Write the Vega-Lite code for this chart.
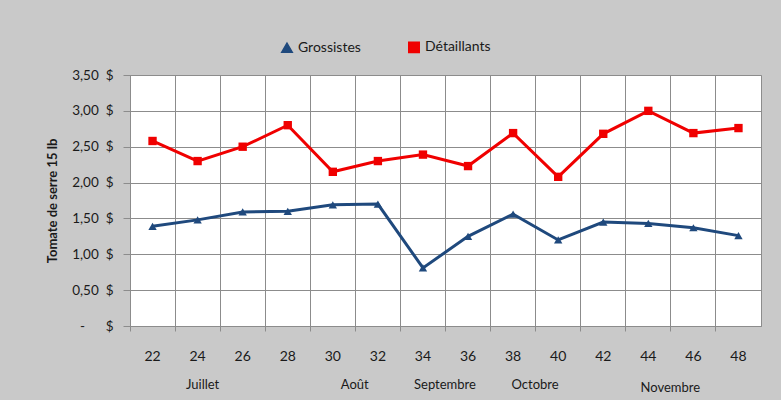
{
  "$schema": "https://vega.github.io/schema/vega-lite/v6.json",
  "autosize": {"type": "none"},
  "width": 631,
  "height": 251,
  "padding": {"left": 130, "top": 75, "right": 20, "bottom": 74},
  "background": "#c9c9c9",
  "config": {
    "font": "Lato",
    "view": {"fill": "white", "stroke": "#8c8c8c", "strokeWidth": 1},
    "axis": {"labelFont": "Lato", "titleFont": "Lato", "labelColor": "#1a1a1a", "titleColor": "#1a1a1a"}
  },
  "data": {
    "values": [
      {"week": "22", "series": "Grossistes", "price": 1.39},
      {"week": "24", "series": "Grossistes", "price": 1.48},
      {"week": "26", "series": "Grossistes", "price": 1.59},
      {"week": "28", "series": "Grossistes", "price": 1.60},
      {"week": "30", "series": "Grossistes", "price": 1.69},
      {"week": "32", "series": "Grossistes", "price": 1.70},
      {"week": "34", "series": "Grossistes", "price": 0.81},
      {"week": "36", "series": "Grossistes", "price": 1.25},
      {"week": "38", "series": "Grossistes", "price": 1.56},
      {"week": "40", "series": "Grossistes", "price": 1.20},
      {"week": "42", "series": "Grossistes", "price": 1.45},
      {"week": "44", "series": "Grossistes", "price": 1.43},
      {"week": "46", "series": "Grossistes", "price": 1.37},
      {"week": "48", "series": "Grossistes", "price": 1.26},
      {"week": "22", "series": "Détaillants", "price": 2.58},
      {"week": "24", "series": "Détaillants", "price": 2.30},
      {"week": "26", "series": "Détaillants", "price": 2.50},
      {"week": "28", "series": "Détaillants", "price": 2.80},
      {"week": "30", "series": "Détaillants", "price": 2.15},
      {"week": "32", "series": "Détaillants", "price": 2.30},
      {"week": "34", "series": "Détaillants", "price": 2.39},
      {"week": "36", "series": "Détaillants", "price": 2.23},
      {"week": "38", "series": "Détaillants", "price": 2.69},
      {"week": "40", "series": "Détaillants", "price": 2.08},
      {"week": "42", "series": "Détaillants", "price": 2.68},
      {"week": "44", "series": "Détaillants", "price": 3.00},
      {"week": "46", "series": "Détaillants", "price": 2.69},
      {"week": "48", "series": "Détaillants", "price": 2.76}
    ]
  },
  "encoding": {
    "y": {
      "field": "price",
      "type": "quantitative",
      "scale": {"domain": [0, 3.5], "nice": false, "zero": true},
      "axis": {
        "values": [0, 0.5, 1, 1.5, 2, 2.5, 3, 3.5],
        "labelExpr": "datum.value == 0 ? '-\u00a0\u00a0\u00a0\u00a0\u00a0\u00a0$' : replace(format(datum.value, '.2f'), '.', ',') + '\u00a0\u00a0$'",
        "labelFontSize": 13.5,
        "labelPadding": 10,
        "tickSize": 7,
        "tickColor": "#8c8c8c",
        "domainColor": "#8c8c8c",
        "gridColor": "#8c8c8c",
        "gridOpacity": 1,
        "title": "Tomate de serre 15 lb",
        "titleFontSize": 13,
        "titleFontWeight": "bold",
        "titlePadding": 12
      }
    },
    "color": {
      "field": "series",
      "type": "nominal",
      "scale": {"domain": ["Grossistes", "Détaillants"], "range": ["#1f497d", "#f00000"]},
      "legend": {
        "title": null,
        "orient": "none",
        "direction": "horizontal",
        "legendX": 150,
        "legendY": -35,
        "labelFontSize": 14,
        "labelFont": "Lato",
        "labelColor": "#1a1a1a",
        "symbolSize": 110,
        "columnPadding": 44
      }
    }
  },
  "layer": [
    {
      "mark": {"type": "line", "strokeWidth": 3},
      "encoding": {
        "x": {
          "field": "week",
          "type": "ordinal",
          "scale": {"type": "band", "paddingInner": 0, "paddingOuter": 0},
          "axis": {
            "title": null,
            "orient": "bottom",
            "labelAngle": 0,
            "bandPosition": 0,
            "labelFontSize": 14,
            "labelPadding": 18,
            "tickSize": 5,
            "tickColor": "#8c8c8c",
            "domainColor": "#8c8c8c",
            "grid": true,
            "gridColor": "#8c8c8c",
            "gridOpacity": 1
          }
        }
      }
    },
    {
      "mark": {"type": "point", "filled": true, "size": 70, "opacity": 1},
      "encoding": {
        "x": {
          "field": "week",
          "type": "ordinal",
          "scale": {"type": "band", "paddingInner": 0, "paddingOuter": 0},
          "axis": {
            "title": null,
            "orient": "bottom",
            "offset": 0,
            "values": ["24", "30", "34", "38", "44"],
            "labelExpr": "datum.value == '24' ? 'Juillet' : datum.value == '30' ? 'Août' : datum.value == '34' ? 'Septembre' : datum.value == '38' ? 'Octobre' : 'Novembre'",
            "labelAngle": 0,
            "labelFontSize": 13,
            "labelOffset": {"condition": {"test": "datum.value == '24'", "value": 5}, "value": 22},
            "labelPadding": {"condition": {"test": "datum.value == '44'", "value": 55}, "value": 52},
            "domain": false,
            "ticks": false,
            "grid": false
          }
        },
        "shape": {
          "field": "series",
          "type": "nominal",
          "scale": {"domain": ["Grossistes", "Détaillants"], "range": ["triangle-up", "square"]},
          "legend": {
            "title": null,
            "orient": "none",
            "direction": "horizontal",
            "legendX": 150,
            "legendY": -35,
            "labelFontSize": 14,
            "labelFont": "Lato",
            "labelColor": "#1a1a1a",
            "symbolSize": 110,
            "columnPadding": 44
          }
        }
      }
    }
  ],
  "resolve": {"axis": {"x": "independent"}}
}
